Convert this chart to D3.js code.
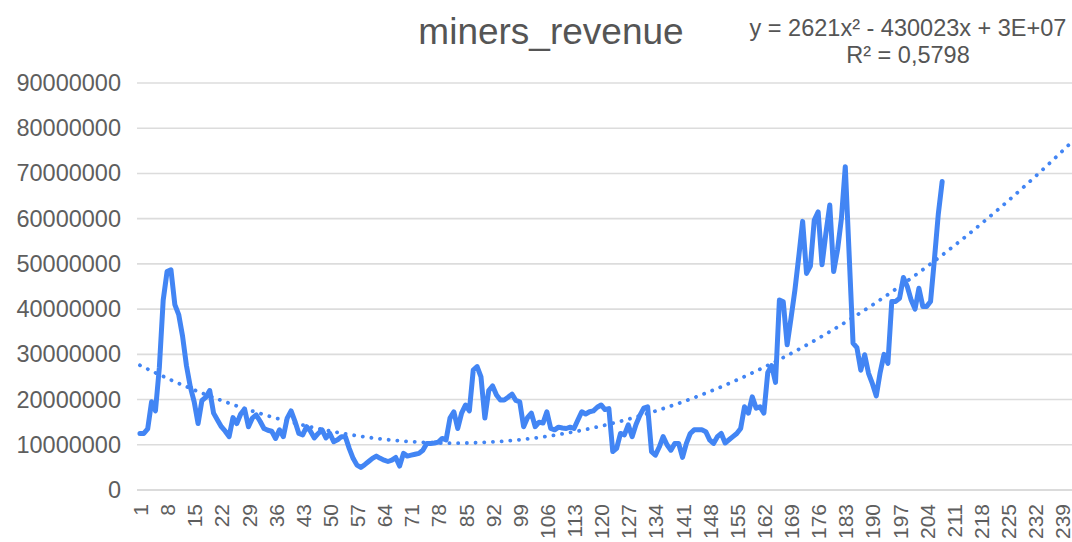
<!DOCTYPE html>
<html>
<head>
<meta charset="utf-8">
<script src="https://cdn.jsdelivr.net/npm/d3@7"></script>
<style>
  html, body { margin: 0; padding: 0; background: #ffffff; }
  svg { display: block; }
  text { font-family: "Liberation Sans", Arial, sans-serif; }
</style>
</head>
<body>
<svg id="chart" width="1072" height="542"></svg>
<script>
// ---- data (in millions) ----
const chartTitle = "miners_revenue";
const trendLabel1 = "y = 2621x\u00B2 - 430023x + 3E+07";
const trendLabel2 = "R\u00B2 = 0,5798";
// trendline coefficients as shown in the label (constant: ~2.8E+07)
const trendA = 2621;
const trendB = -430023;
const trendC = 28000000;
const categoryCount = 241;
const categories = d3.range(1, categoryCount + 1);
const xTickLabels = d3.range(1, 240, 7);
const yTickValues = [0, 10000000, 20000000, 30000000, 40000000, 50000000, 60000000, 70000000, 80000000, 90000000];
const revenueMillions = [
  12.5, 12.5, 13.5, 19.5, 17.5, 27, 42, 48.3, 48.7, 41,
  38.8, 34, 27.5, 22.8, 19.5, 14.7, 19.8, 20.5, 22, 17,
  15.5, 14, 13, 11.8, 16, 14.7, 16.8, 17.9, 14, 15.9,
  16.6, 15.2, 13.6, 13.2, 13, 11.4, 13.3, 11.8, 15.9, 17.5,
  15.2, 12.5, 12.2, 14, 13, 11.5, 12.5, 13.3, 11.5, 12.5,
  10.7, 11.1, 11.8, 11.8, 9.2, 7, 5.5, 5, 5.6, 6.3,
  7, 7.5, 7, 6.6, 6.3, 6.6, 7.2, 5.3, 8.1, 7.5,
  7.7, 7.9, 8.1, 8.8, 10.3, 10.3, 10.4, 10.6, 11.4, 11.1,
  15.9, 17.3, 13.6, 17, 18.8, 17.5, 26.5, 27.3, 25, 15.9,
  22, 23, 21, 19.9, 19.9, 20.5, 21.2, 19.8, 19.5, 14,
  16, 17, 14, 15, 14.8, 17.3, 13.6, 13.3, 13.9, 13.7,
  13.6, 13.9, 13.6, 15.5, 17.3, 16.8, 17.3, 17.5, 18.3, 18.8,
  17.8, 18, 8.5, 9.2, 12.5, 12.2, 14.4, 11.8, 14.5, 16.5,
  18.1, 18.4, 8.5, 7.7, 9.5, 11.8, 10, 8.8, 10.3, 10.3,
  7.2, 10.3, 12.5, 13.3, 13.3, 13.3, 12.9, 11.1, 10.3, 11.8,
  12.5, 10.4, 11.1, 11.8, 12.5, 13.6, 18.4, 17, 20.6, 18.1,
  18.4, 17, 26, 27.5, 23.8, 42, 41.6, 32.1, 38, 44.2,
  51.6, 59.4, 47.9, 49.5, 59.7, 61.5, 49.8, 56.8, 63, 48.3,
  53.1, 60, 71.5, 52, 32.5, 31.5, 26.5, 29.9, 25.8, 23.5,
  20.8, 26, 30, 28, 41.7, 41.7, 42.4, 47, 45, 42,
  40, 44.6, 40.6, 40.6, 41.7, 51, 61, 68.2
];
const revenue = revenueMillions.map(v => v * 1e6);

// ---- layout ----
const svg = d3.select("#chart");
const plotLeft = 138, plotRight = 1072, plotTop = 83, plotBottom = 490;

const x = d3.scalePoint().domain(categories).range([plotLeft + 1.94, plotRight - 1.94]);
const y = d3.scaleLinear().domain([0, 90000000]).range([plotBottom, plotTop]);

// gridlines
svg.append("g")
  .selectAll("line")
  .data(yTickValues)
  .join("line")
  .attr("x1", plotLeft - 1).attr("x2", plotRight)
  .attr("y1", d => y(d)).attr("y2", d => y(d))
  .attr("stroke", d => d === 0 ? "#cfcfcf" : "#dcdcdc")
  .attr("stroke-width", 1.6);

// y axis labels
const yAxis = d3.axisLeft(y).tickValues(yTickValues).tickSize(0).tickPadding(0).tickFormat(d3.format("d"));
const yg = svg.append("g").attr("transform", `translate(${121},0)`).call(yAxis);
yg.select(".domain").remove();
yg.selectAll("text")
  .attr("fill", "#5e5e5e")
  .style("font-size", "23.5px")
  .style("font-family", "'Liberation Sans', Arial, sans-serif");

// x axis labels
const xAxis = d3.axisBottom(x).tickValues(xTickLabels).tickSize(0).tickPadding(0);
const xg = svg.append("g").attr("transform", `translate(0,${plotBottom})`).call(xAxis);
xg.select(".domain").remove();
xg.selectAll("text")
  .attr("fill", "#5e5e5e")
  .style("font-size", "21px")
  .style("font-family", "'Liberation Sans', Arial, sans-serif")
  .attr("text-anchor", "end")
  .attr("transform", "translate(0,14) rotate(-90)")
  .attr("x", 0).attr("y", 0).attr("dy", "0.36em");

// trendline
const trendPts = categories.map(c => [c, trendA * c * c + trendB * c + trendC]);
svg.append("path")
  .datum(trendPts)
  .attr("fill", "none")
  .attr("stroke", "#4285f4")
  .attr("stroke-width", 3.8)
  .attr("stroke-linecap", "round")
  .attr("stroke-dasharray", "0.1 8.6")
  .attr("d", d3.line().x(d => x(d[0])).y(d => y(d[1])));

// main series
svg.append("path")
  .datum(revenue)
  .attr("fill", "none")
  .attr("stroke", "#4285f4")
  .attr("stroke-width", 5)
  .attr("stroke-linejoin", "round")
  .attr("stroke-linecap", "round")
  .attr("d", d3.line().x((d, i) => x(categories[i])).y(d => y(d)));

// title
svg.append("text")
  .attr("x", 551).attr("y", 44)
  .attr("text-anchor", "middle")
  .attr("fill", "#555555")
  .style("font-size", "37px")
  .text(chartTitle);

// trendline equation
svg.append("text")
  .attr("x", 908).attr("y", 36)
  .attr("text-anchor", "middle")
  .attr("fill", "#555555")
  .style("font-size", "23.5px")
  .text(trendLabel1);
svg.append("text")
  .attr("x", 908).attr("y", 63)
  .attr("text-anchor", "middle")
  .attr("fill", "#555555")
  .style("font-size", "23.5px")
  .text(trendLabel2);
</script>
</body>
</html>
